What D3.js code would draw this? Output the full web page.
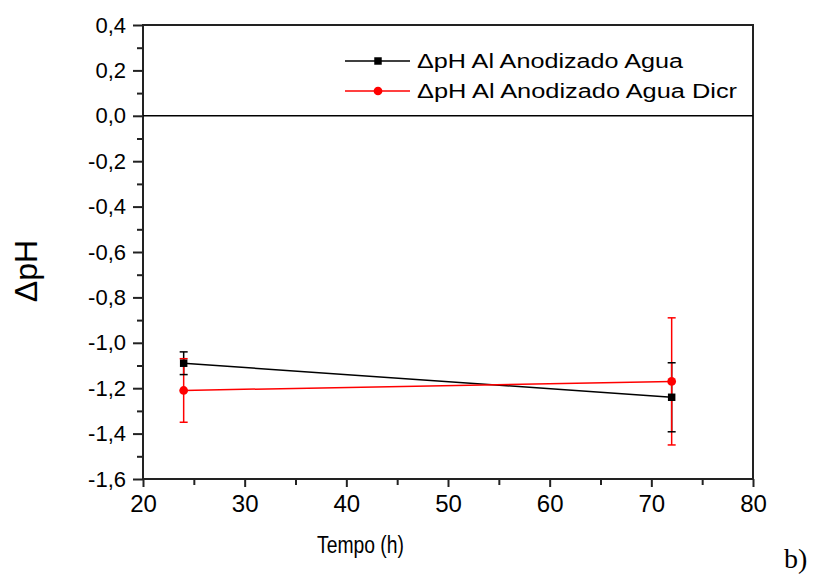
<!DOCTYPE html>
<html>
<head>
<meta charset="utf-8">
<script src="https://cdn.jsdelivr.net/npm/d3@7"></script>
<style>
  body { margin: 0; background: #fff; }
  text { font-family: "Liberation Sans", Arial, sans-serif; fill: #000; }
</style>
</head>
<body>
<div id="vis"></div>
<script>
// data
var tempo = [24, 72];
var agua = [-1.09, -1.24];
var aguaErr = [0.05, 0.152];
var dicr = [-1.21, -1.17];
var dicrErr = [0.14, 0.28];
var seriesNames = ["\u0394pH Al Anodizado Agua", "\u0394pH Al Anodizado Agua Dicr"];
var seriesColors = ["#000000", "#ff0000"];
var xTicks = [20, 30, 40, 50, 60, 70, 80];
var yTicks = [0.4, 0.2, 0.0, -0.2, -0.4, -0.6, -0.8, -1.0, -1.2, -1.4, -1.6];

var width = 814, height = 576;
var margin = {top: 25, right: 61, bottom: 97, left: 143};
var w = width - margin.left - margin.right,
    h = height - margin.top - margin.bottom;

var svg = d3.select("#vis").append("svg")
    .attr("width", width)
    .attr("height", height);

var g = svg.append("g")
    .attr("transform", "translate(" + margin.left + "," + margin.top + ")");

var x = d3.scaleLinear().domain([20, 80]).range([0, w]);
var y = d3.scaleLinear().domain([-1.6, 0.4]).range([h, 0]);

var fmt = function(d) { return d3.format(".1f")(d).replace(".", ",").replace("\u2212", "-"); };

// minor ticks
g.append("g")
    .attr("transform", "translate(0," + h + ")")
    .call(d3.axisBottom(x).tickValues(d3.range(25, 80, 10)).tickSize(6).tickFormat(""))
    .call(function(s) { s.select(".domain").remove(); })
    .selectAll("line").attr("stroke", "#222").attr("stroke-width", 2);

g.append("g")
    .call(d3.axisLeft(y).tickValues(d3.range(-1.5, 0.4, 0.2)).tickSize(6).tickFormat(""))
    .call(function(s) { s.select(".domain").remove(); })
    .selectAll("line").attr("stroke", "#222").attr("stroke-width", 2);

// major ticks + labels
var xAxis = g.append("g")
    .attr("transform", "translate(0," + h + ")")
    .call(d3.axisBottom(x).tickValues(xTicks).tickSize(8).tickPadding(8).tickFormat(d3.format("d")));
xAxis.select(".domain").remove();
xAxis.selectAll("line").attr("stroke", "#222").attr("stroke-width", 2);
xAxis.selectAll("text").style("font-size", "24px").attr("font-family", null);

var yAxis = g.append("g")
    .call(d3.axisLeft(y).tickValues(yTicks).tickSize(10).tickPadding(7).tickFormat(fmt));
yAxis.select(".domain").remove();
yAxis.selectAll("line").attr("stroke", "#222").attr("stroke-width", 2);
yAxis.selectAll("text").style("font-size", "22px").attr("font-family", null);

// frame
g.append("rect")
    .attr("width", w).attr("height", h)
    .attr("fill", "none").attr("stroke", "#222").attr("stroke-width", 2);

// zero line
g.append("line")
    .attr("x1", 0).attr("x2", w)
    .attr("y1", y(0)).attr("y2", y(0))
    .attr("stroke", "#000").attr("stroke-width", 1.5);

var series = [
  {name: seriesNames[0], color: seriesColors[0], vals: agua, err: aguaErr, shape: d3.symbolSquare},
  {name: seriesNames[1], color: seriesColors[1], vals: dicr, err: dicrErr, shape: d3.symbolCircle}
];

var line = d3.line()
    .x(function(d) { return x(d[0]); })
    .y(function(d) { return y(d[1]); });

series.forEach(function(s) {
  var pts = tempo.map(function(t, i) { return [t, s.vals[i], s.err[i]]; });
  s.pts = pts;
  g.append("path")
      .datum(pts)
      .attr("d", line)
      .attr("fill", "none")
      .attr("stroke", s.color)
      .attr("stroke-width", 1.5);
});

// error bar stems, then caps and markers
series.forEach(function(s) {
  g.selectAll(null).data(s.pts).enter().append("line")
      .attr("x1", function(d) { return x(d[0]); })
      .attr("x2", function(d) { return x(d[0]); })
      .attr("y1", function(d) { return y(d[1] + d[2]); })
      .attr("y2", function(d) { return y(d[1] - d[2]); })
      .attr("stroke", s.color).attr("stroke-width", 1.5);
});

series.slice().reverse().forEach(function(s) {
  [1, -1].forEach(function(sign) {
    g.selectAll(null).data(s.pts).enter().append("line")
        .attr("x1", function(d) { return x(d[0]) - 4; })
        .attr("x2", function(d) { return x(d[0]) + 4; })
        .attr("y1", function(d) { return y(d[1] + sign * d[2]); })
        .attr("y2", function(d) { return y(d[1] + sign * d[2]); })
        .attr("stroke", s.color).attr("stroke-width", 1.5);
  });
  g.selectAll(null).data(s.pts).enter().append("path")
      .attr("d", d3.symbol().type(s.shape).size(s.shape === d3.symbolSquare ? 56 : 60))
      .attr("transform", function(d) { return "translate(" + x(d[0]) + "," + y(d[1]) + ")"; })
      .attr("fill", s.color);
});

// legend
var legend = g.selectAll(".legend")
    .data(series)
  .enter().append("g")
    .attr("class", "legend")
    .attr("transform", function(d, i) { return "translate(" + (345 - margin.left) + "," + (36 + i * 30) + ")"; });

legend.append("line")
    .attr("x1", 0).attr("x2", 65)
    .attr("stroke", function(d) { return d.color; })
    .attr("stroke-width", 1.5);

legend.append("path")
    .attr("d", function(d) { return d3.symbol().type(d.shape).size(d.shape === d3.symbolSquare ? 56 : 60)(); })
    .attr("transform", "translate(33,0)")
    .attr("fill", function(d) { return d.color; });

legend.append("text")
    .attr("x", 72)
    .attr("dy", "0.35em")
    .style("font-size", "19.5px")
    .attr("textLength", function(d, i) { return i === 0 ? 266 : 320; })
    .attr("lengthAdjust", "spacingAndGlyphs")
    .text(function(d) { return d.name; });

// axis titles
svg.append("text")
    .attr("x", 317).attr("y", 553)
    .style("font-size", "23px")
    .attr("textLength", 87)
    .attr("lengthAdjust", "spacingAndGlyphs")
    .text("Tempo (h)");

svg.append("text")
    .attr("transform", "translate(37,271) rotate(-90)")
    .attr("text-anchor", "middle")
    .style("font-size", "32px")
    .text("\u0394pH");

svg.append("text")
    .attr("x", 784).attr("y", 568)
    .style("font-family", "'Liberation Serif', 'Times New Roman', serif")
    .style("font-size", "28px")
    .text("b)");
</script>
</body>
</html>
